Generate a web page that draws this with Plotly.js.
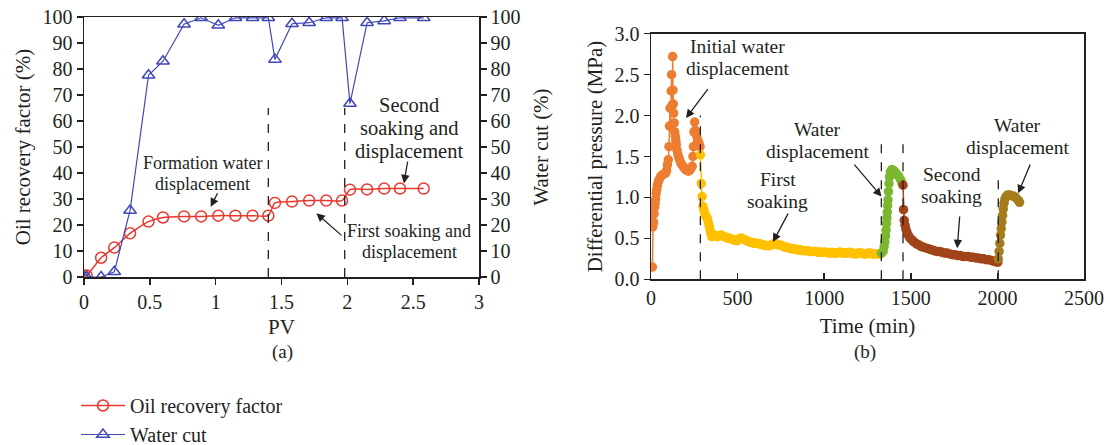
<!DOCTYPE html>
<html>
<head>
<meta charset="utf-8">
<script src="https://cdn.plot.ly/plotly-3.0.1.min.js"></script>
<style>html,body{margin:0;padding:0;background:#fff}#chart{width:1110px;height:445px}</style>
</head>
<body>
<div id="chart"></div>
<script>
// ---------- (a) PV data ----------
const pv = [0, 0.02, 0.13, 0.23, 0.35, 0.49, 0.6, 0.76, 0.89, 1.02, 1.15, 1.28, 1.4, 1.45, 1.58, 1.71, 1.84, 1.96, 2.02, 2.15, 2.28, 2.4, 2.58];
const oilRecovery = [0.5, 0.6, 7.4, 11.3, 16.8, 21.3, 22.9, 23.3, 23.3, 23.6, 23.6, 23.6, 23.6, 28.5, 29.0, 29.4, 29.4, 29.4, 33.6, 33.7, 34.0, 34.0, 34.0];
const waterCut = [0, 0, 0, 2, 25.6, 77.6, 83, 97.2, 99.7, 96.8, 99.7, 99.7, 99.7, 83.7, 97.4, 97.8, 99.7, 99.7, 66.7, 97.8, 98.5, 99.7, 99.7];
const stageBoundsA = [1.4, 1.98];

// ---------- (b) differential pressure data ----------
const tInitial = [8, 10, 12, 15, 18, 21, 24, 27, 30, 33, 37, 42, 48, 55, 62, 70, 78, 85, 90, 95, 100, 104, 107, 110, 113, 116, 119, 122, 125, 127, 129, 131, 134, 137, 140, 143, 146, 150, 155, 160, 166, 172, 178, 185, 192, 200, 208, 216, 224, 232, 238, 242, 245, 248, 252, 255, 259, 264, 270, 277, 283];
const pInitial = [0.15, 0.64, 0.68, 0.70, 0.80, 0.88, 0.92, 0.98, 1.05, 1.10, 1.15, 1.19, 1.22, 1.25, 1.27, 1.28, 1.29, 1.30, 1.33, 1.40, 1.46, 1.62, 1.87, 2.09, 1.88, 2.30, 2.50, 2.13, 2.72, 2.31, 2.14, 2.03, 1.91, 1.80, 1.75, 1.70, 1.65, 1.58, 1.53, 1.49, 1.45, 1.42, 1.40, 1.38, 1.36, 1.34, 1.33, 1.32, 1.33, 1.36, 1.38, 1.50, 1.62, 1.80, 1.92, 1.82, 1.80, 1.75, 1.70, 1.66, 1.62];

const tSoak1 = [285, 290, 295, 300, 305, 310, 315, 320, 325, 330, 335, 340, 345, 350, 358, 366, 375, 385, 395, 405, 415, 425, 435, 445, 455, 465, 475, 485, 495, 505, 515, 525, 535, 545, 555, 565, 575, 585, 595, 605, 615, 625, 635, 645, 655, 665, 675, 685, 695, 705, 715, 725, 735, 745, 755, 765, 775, 785, 795, 805, 815, 825, 835, 845, 855, 865, 875, 885, 895, 905, 915, 925, 935, 945, 955, 965, 975, 985, 995, 1005, 1015, 1025, 1035, 1045, 1055, 1065, 1075, 1085, 1095, 1105, 1115, 1125, 1135, 1145, 1155, 1165, 1175, 1185, 1195, 1205, 1215, 1225, 1235, 1245, 1255, 1265, 1275, 1285, 1295, 1305, 1315, 1325];
const pSoak1 = [1.52, 1.17, 1.01, 0.89, 0.85, 0.81, 0.78, 0.76, 0.74, 0.70, 0.66, 0.61, 0.56, 0.52, 0.53, 0.54, 0.53, 0.52, 0.53, 0.54, 0.53, 0.52, 0.51, 0.50, 0.50, 0.49, 0.48, 0.48, 0.47, 0.49, 0.50, 0.50, 0.49, 0.48, 0.47, 0.46, 0.45, 0.45, 0.44, 0.44, 0.44, 0.43, 0.43, 0.42, 0.42, 0.41, 0.41, 0.41, 0.42, 0.43, 0.43, 0.43, 0.42, 0.42, 0.41, 0.40, 0.39, 0.39, 0.38, 0.38, 0.37, 0.37, 0.37, 0.36, 0.36, 0.36, 0.35, 0.35, 0.35, 0.35, 0.34, 0.34, 0.34, 0.34, 0.34, 0.33, 0.33, 0.33, 0.33, 0.33, 0.33, 0.32, 0.32, 0.33, 0.32, 0.32, 0.32, 0.33, 0.33, 0.32, 0.32, 0.32, 0.32, 0.33, 0.32, 0.32, 0.31, 0.31, 0.32, 0.32, 0.32, 0.31, 0.31, 0.31, 0.32, 0.32, 0.31, 0.31, 0.31, 0.31, 0.31, 0.31];

const tWater1 = [1330, 1340, 1346, 1350, 1354, 1357, 1360, 1362, 1364, 1366, 1368, 1371, 1374, 1377, 1382, 1390, 1400, 1410, 1420, 1430, 1440, 1448];
const pWater1 = [0.32, 0.34, 0.40, 0.46, 0.53, 0.60, 0.68, 0.75, 0.82, 0.90, 0.97, 1.07, 1.17, 1.25, 1.31, 1.34, 1.33, 1.31, 1.28, 1.26, 1.22, 1.18];

const tSoak2 = [1455, 1458, 1462, 1467, 1472, 1478, 1485, 1493, 1502, 1512, 1522, 1535, 1548, 1560, 1575, 1590, 1605, 1620, 1635, 1650, 1665, 1680, 1695, 1710, 1725, 1740, 1755, 1770, 1785, 1800, 1815, 1830, 1845, 1860, 1875, 1890, 1905, 1920, 1935, 1950, 1965, 1980, 1995, 2003];
const pSoak2 = [1.15, 0.85, 0.72, 0.66, 0.61, 0.57, 0.54, 0.51, 0.49, 0.47, 0.45, 0.43, 0.42, 0.40, 0.39, 0.38, 0.37, 0.36, 0.35, 0.34, 0.34, 0.33, 0.32, 0.32, 0.31, 0.30, 0.30, 0.29, 0.29, 0.28, 0.28, 0.28, 0.27, 0.27, 0.26, 0.26, 0.25, 0.25, 0.24, 0.24, 0.23, 0.22, 0.21, 0.21];

const tWater2 = [2005, 2010, 2014, 2018, 2022, 2026, 2030, 2034, 2038, 2043, 2050, 2060, 2072, 2085, 2098, 2110, 2122, 2128];
const pWater2 = [0.25, 0.34, 0.44, 0.54, 0.62, 0.70, 0.78, 0.86, 0.93, 0.98, 1.01, 1.03, 1.03, 1.02, 1.01, 0.99, 0.96, 0.94];

const stageBoundsB = [285, 1330, 1455, 2005];
const stageTopsB = [2.0, 1.74, 1.75, 1.21];

// ---------- styling ----------
const FONT = 'Liberation Serif, Times New Roman, serif';
const INK = '#231f20';
const cRed = '#e8382f', cBlue = '#4048b8';
const stageColors = ['#ed7d31', '#ffc000', '#7cb82f', '#a2441a', '#a57c1b'];

const traces = [
  {x: pv, y: oilRecovery, name: 'Oil recovery factor', type: 'scatter', mode: 'lines+markers',
   xaxis: 'x', yaxis: 'y', line: {color: cRed, width: 1.5, shape: 'spline', smoothing: 0.6},
   marker: {symbol: 'circle-open', size: 11, color: cRed, line: {width: 1.5, color: cRed}}},
  {x: pv, y: waterCut, name: 'Water cut', type: 'scatter', mode: 'lines+markers',
   xaxis: 'x', yaxis: 'y2', line: {color: cBlue, width: 1.2},
   marker: {symbol: 'triangle-up-open', size: 11, color: cBlue, line: {width: 1.5, color: cBlue}}}
];
const stages = [[tInitial, pInitial], [tSoak1, pSoak1], [tWater1, pWater1], [tSoak2, pSoak2], [tWater2, pWater2]];
stages.forEach((s, i) => traces.push({
  x: s[0], y: s[1], type: 'scatter', mode: 'lines+markers', showlegend: false,
  xaxis: 'x3', yaxis: 'y3', line: {color: stageColors[i], width: 1.5},
  marker: {size: 9.5, color: stageColors[i]}
}));

const shapes = [];
stageBoundsA.forEach(b => shapes.push({type: 'line', xref: 'x', yref: 'y', x0: b, x1: b, y0: 0, y1: 65,
  line: {color: INK, width: 1.3, dash: 'dash'}}));
stageBoundsB.forEach((b, i) => shapes.push({type: 'line', xref: 'x3', yref: 'y3', x0: b, x1: b, y0: 0, y1: stageTopsB[i],
  line: {color: INK, width: 1.3, dash: 'dash'}}));

// multi-line label with tight line spacing (one annotation per line)
function txt(xr, yr, x, y, lines, size, gap) {
  const n = lines.length;
  return lines.map((ln, i) => ({xref: xr, yref: yr, x: x, y: y, text: ln, showarrow: false,
    xanchor: 'center', yanchor: 'middle', yshift: ((n - 1) / 2 - i) * gap, borderpad: 0,
    font: {family: FONT, size: size, color: INK}}));
}
function arr(xr, yr, x, y, ax, ay) {
  return [{xref: xr, yref: yr, axref: xr, ayref: yr, x: x, y: y, ax: ax, ay: ay, text: '',
    showarrow: true, arrowhead: 2, arrowsize: 1.3, arrowwidth: 1.3, arrowcolor: INK}];
}
const annotations = [].concat(
  txt('x', 'y', 0.90, 40, ['Formation water', 'displacement'], 18, 21),
  arr('x', 'y', 0.962, 27, 1.02, 32.8),
  txt('x', 'y', 2.47, 57.3, ['Second', 'soaking and', 'displacement'], 20.5, 23),
  arr('x', 'y', 2.43, 36, 2.46, 45),
  txt('x', 'y', 2.47, 13.5, ['First soaking and', 'displacement'], 18, 21),
  arr('x', 'y', 1.765, 24.5, 1.967, 15.5),
  txt('x3', 'y3', 502, 2.71, ['Initial water', 'displacement'], 19.5, 22),
  arr('x3', 'y3', 202, 1.97, 335, 2.34),
  txt('x3', 'y3', 964, 1.695, ['Water', 'displacement'], 19.5, 22),
  arr('x3', 'y3', 1331, 1.01, 1167, 1.42),
  txt('x3', 'y3', 733, 1.09, ['First', 'soaking'], 19.5, 22),
  arr('x3', 'y3', 704, 0.455, 796, 0.82),
  txt('x3', 'y3', 1735, 1.14, ['Second', 'soaking'], 19.5, 22),
  arr('x3', 'y3', 1768, 0.38, 1783, 0.785),
  txt('x3', 'y3', 2116, 1.744, ['Water', 'displacement'], 19.5, 22),
  arr('x3', 'y3', 2120, 1.05, 2193, 1.42),
  txt('paper', 'paper', 282 / 1110, 1 - 352 / 445, ['(a)'], 19, 0),
  txt('paper', 'paper', 865 / 1110, 1 - 352 / 445, ['(b)'], 19, 0)
);

function ax(extra) {
  return Object.assign({
    showgrid: false, zeroline: false, showline: true, linecolor: INK, linewidth: 1.5,
    ticks: 'outside', ticklen: 6, tickwidth: 1.5, tickcolor: INK, automargin: false,
    tickfont: {family: FONT, size: 20, color: INK}
  }, extra);
}
const titleFont = {family: FONT, size: 21, color: INK};

const layout = {
  width: 1110, height: 445,
  margin: {l: 0, r: 0, t: 0, b: 0, autoexpand: false},
  paper_bgcolor: '#fff', plot_bgcolor: '#fff',
  font: {family: FONT, color: INK},
  xaxis: ax({domain: [84 / 1110, 479 / 1110], range: [0, 3], dtick: 0.5, mirror: true, anchor: 'y',
    title: {text: 'PV', font: titleFont, standoff: 8}}),
  yaxis: ax({domain: [1 - 277 / 445, 1 - 17 / 445], range: [0, 100], dtick: 10, anchor: 'x',
    title: {text: 'Oil recovery factor (%)', font: titleFont, standoff: 6}}),
  yaxis2: ax({domain: [1 - 277 / 445, 1 - 17 / 445], range: [0, 100], dtick: 10, overlaying: 'y', side: 'right', anchor: 'x',
    title: {text: 'Water cut (%)', font: titleFont, standoff: 14}}),
  xaxis3: ax({domain: [651 / 1110, 1084 / 1110], range: [0, 2500], dtick: 500, mirror: true, anchor: 'y3', ticks: 'inside',
    title: {text: 'Time (min)', font: titleFont, standoff: 10}}),
  yaxis3: ax({domain: [1 - 279.3 / 445, 1 - 33.7 / 445], range: [0, 3], dtick: 0.5, tickformat: '.1f', mirror: true, anchor: 'x3',
    title: {text: 'Differential pressure (MPa)', font: titleFont, standoff: 6}}),
  showlegend: true,
  legend: {x: 76 / 1110, y: 1 - 386 / 445, xanchor: 'left', yanchor: 'top', itemwidth: 44,
    font: {family: FONT, size: 20, color: INK}, bgcolor: 'rgba(0,0,0,0)', tracegroupgap: 0},
  shapes: shapes,
  annotations: annotations
};

Plotly.newPlot('chart', traces, layout, {displayModeBar: false, staticPlot: true});
</script>
</body>
</html>
